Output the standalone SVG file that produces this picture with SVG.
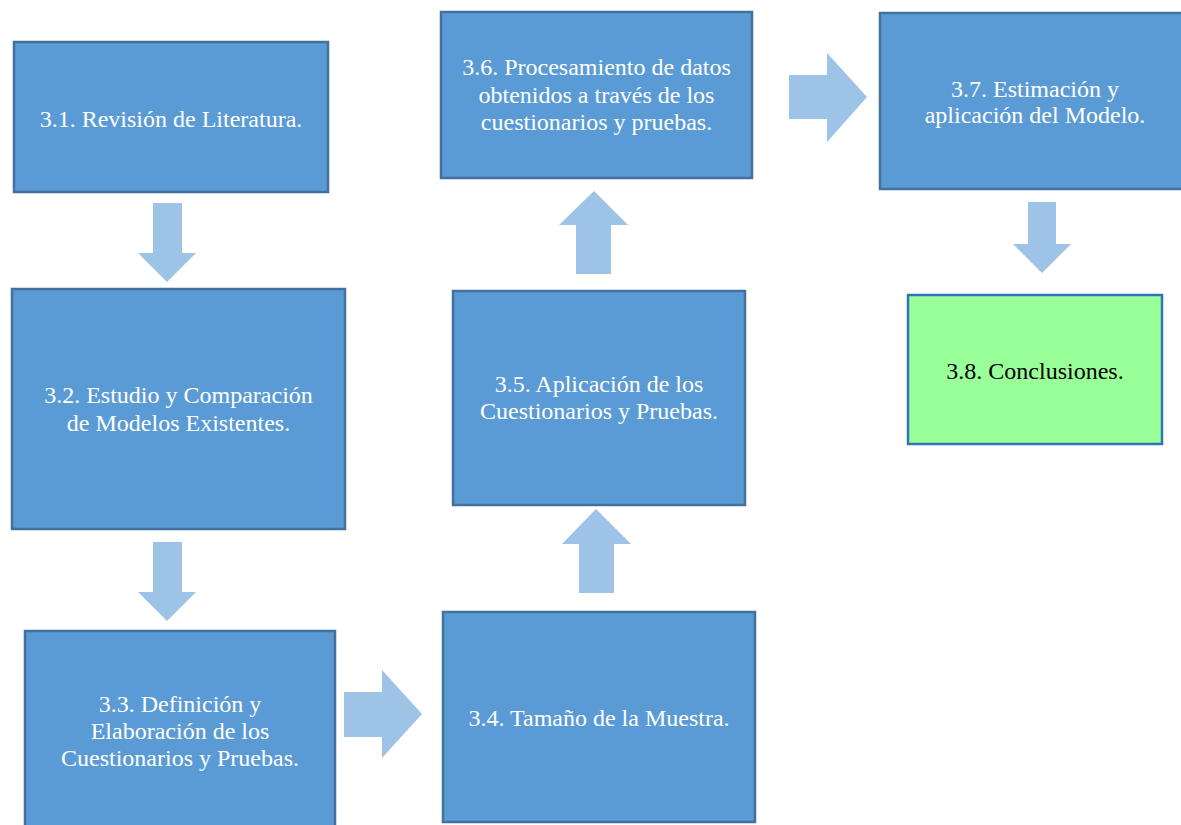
<svg xmlns="http://www.w3.org/2000/svg" width="1181" height="825" viewBox="0 0 1181 825">
<style>
.box{fill:#5B9BD5;stroke:#41719C;stroke-width:2.5}
.green{fill:#99FF99;stroke:#2E75B6;stroke-width:2.5}
.arr{fill:#9DC3E6}
.t{font-family:"Liberation Serif","Times New Roman",serif;font-size:24px;fill:#FFFFFF;text-anchor:middle}
.tk{fill:#000000}
</style>
<rect width="1181" height="825" fill="#FFFFFF"/>
<g id="connectors">
<polygon class="arr" points="153,203 182,203 182,253 196,253 167,282 138,253 153,253"/>
<polygon class="arr" points="153,542 182,542 182,592 196,592 167,621 138,592 153,592"/>
<polygon class="arr" points="344,692 382,692 382,670 422,714 382,758 382,737 344,737"/>
<polygon class="arr" points="579,593 614,593 614,544 631,544 596,509 562,544 579,544"/>
<polygon class="arr" points="576,274 611,274 611,225 628,225 594,191 559,225 576,225"/>
<polygon class="arr" points="789,75 827,75 827,53 867,97 827,142 827,119 789,119"/>
<polygon class="arr" points="1028,202 1056,202 1056,244 1071,244 1042,273 1013,244 1028,244"/>
</g>
<g id="n31">
<rect class="box" x="14" y="42" width="314" height="150"/>
<text class="t" x="171" y="127">3.1. Revisión de Literatura.</text>
</g>
<g id="n32">
<rect class="box" x="12" y="289" width="333" height="240"/>
<text class="t" x="178.5" y="403">3.2. Estudio y Comparación</text>
<text class="t" x="178.5" y="431">de Modelos Existentes.</text>
</g>
<g id="n33">
<rect class="box" x="25" y="631" width="310" height="200"/>
<text class="t" x="180" y="712">3.3. Definición y</text>
<text class="t" x="180" y="739">Elaboración de los</text>
<text class="t" x="180" y="766">Cuestionarios y Pruebas.</text>
</g>
<g id="n34">
<rect class="box" x="443" y="612" width="312" height="210"/>
<text class="t" x="599" y="726">3.4. Tamaño de la Muestra.</text>
</g>
<g id="n35">
<rect class="box" x="453" y="291" width="292" height="214"/>
<text class="t" x="599" y="392">3.5. Aplicación de los</text>
<text class="t" x="599" y="419">Cuestionarios y Pruebas.</text>
</g>
<g id="n36">
<rect class="box" x="441" y="12" width="311" height="166"/>
<text class="t" x="596.5" y="75">3.6. Procesamiento de datos</text>
<text class="t" x="596.5" y="103">obtenidos a través de los</text>
<text class="t" x="596.5" y="130">cuestionarios y pruebas.</text>
</g>
<g id="n37">
<rect class="box" x="880" y="13" width="320" height="176"/>
<text class="t" x="1035" y="97">3.7. Estimación y</text>
<text class="t" x="1035" y="123">aplicación del Modelo.</text>
</g>
<g id="n38">
<rect class="green" x="908" y="295" width="254" height="149"/>
<text class="t tk" x="1035" y="379">3.8. Conclusiones.</text>
</g>
</svg>
